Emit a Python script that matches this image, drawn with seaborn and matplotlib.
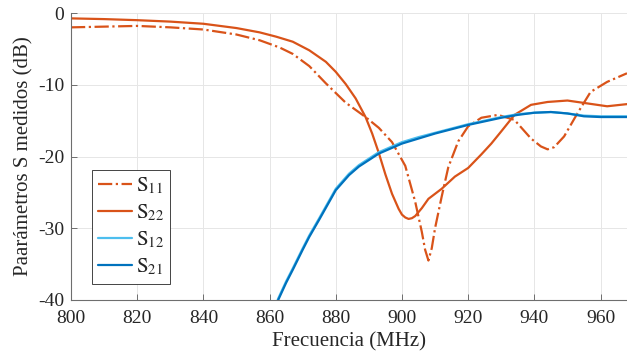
import matplotlib
matplotlib.use("Agg")
import matplotlib.pyplot as plt
import seaborn as sns

# S11 (dash-dot)
f11 = [800, 810, 820, 830, 840, 850, 857, 863, 867, 872, 877, 883, 889, 893, 897,
       901, 904, 906, 907, 908, 909, 910, 912, 914, 917, 920, 924, 929, 934, 939, 942, 944, 946, 949,
       953, 957, 962, 968]
s11 = [-2.0, -1.9, -1.8, -2.0, -2.3, -3.0, -3.8, -4.8, -5.7, -7.4, -9.8, -12.5, -14.5, -16.0, -18.0,
       -21.3, -26.3, -30.5, -33.0, -34.5, -32.8, -30.0, -25.6, -21.5, -17.9, -15.8, -14.6, -14.2, -14.9, -17.5, -18.6, -19.0, -18.7, -17.2,
       -14.0, -11.0, -9.6, -8.4]

# S22
f22 = [800, 810, 820, 830, 840, 850, 857, 862, 867, 872, 877, 880, 883, 886, 889,
       891, 893, 895, 897, 899, 900, 901, 902, 903, 904, 906, 908, 912, 916, 920, 924, 927,
       930, 934, 939, 944, 950, 956, 962, 968]
s22 = [-0.75, -0.85, -1.0, -1.2, -1.5, -2.1, -2.7, -3.3, -4.0, -5.2, -6.8, -8.2, -9.9, -11.9, -14.5,
       -16.8, -19.5, -22.5, -25.2, -27.3, -28.1, -28.5, -28.7, -28.6, -28.3, -27.2, -25.9, -24.5, -22.8, -21.6, -19.7, -18.2,
       -16.5, -14.2, -12.8, -12.4, -12.2, -12.6, -13.0, -12.7]

# S12 / S21
f21 = [860, 862.6, 865, 867, 870, 872, 875, 880, 884, 887, 890, 893, 897, 900, 905,
       910, 915, 920, 925, 930, 935, 940, 945, 950, 955, 960, 968]
s21 = [-43.5, -40.0, -37.6, -35.8, -33.0, -31.2, -28.8, -24.7, -22.6, -21.4, -20.5, -19.6, -18.8, -18.2, -17.5,
       -16.8, -16.2, -15.6, -15.1, -14.6, -14.2, -13.9, -13.8, -14.0, -14.4, -14.5, -14.5]
s12 = [-43.3, -39.8, -37.4, -35.6, -32.8, -31.0, -28.6, -24.5, -22.4, -21.2, -20.3, -19.4, -18.6, -18.0, -17.3,
       -16.7, -16.1, -15.5, -15.0, -14.5, -14.1, -13.9, -13.8, -14.0, -14.3, -14.4, -14.4]

orange = "#D95319"
blue = "#0072BD"
lightblue = "#4DBEEE"

sns.set_style("whitegrid")
plt.rcParams["font.family"] = ["Liberation Serif", "DejaVu Serif"]
plt.rcParams["mathtext.fontset"] = "stix"
plt.rcParams["axes.unicode_minus"] = False

fig = plt.figure(figsize=(6.27, 3.53), dpi=100)
ax = fig.add_axes([71 / 627, 1 - 300 / 353, 556 / 627, 287 / 353])

sns.lineplot(x=f11, y=s11, ax=ax, color=orange, lw=1.6, linestyle="-.", sort=False,
             label=r"$\mathrm{S}_{11}$")
sns.lineplot(x=f22, y=s22, ax=ax, color=orange, lw=1.6, sort=False,
             label=r"$\mathrm{S}_{22}$")
sns.lineplot(x=f21, y=s12, ax=ax, color=lightblue, lw=1.6, sort=False,
             label=r"$\mathrm{S}_{12}$")
sns.lineplot(x=f21, y=s21, ax=ax, color=blue, lw=1.6, sort=False,
             label=r"$\mathrm{S}_{21}$")

ax.set_xlim(800, 968)
ax.set_ylim(-40, 0)
ax.set_xticks(range(800, 961, 20))
ax.set_yticks(range(-40, 1, 10))
ax.grid(True, color="#e6e6e6", lw=0.7)

for side in ["top", "right"]:
    ax.spines[side].set_visible(False)
for side in ["left", "bottom"]:
    ax.spines[side].set_color("#6e6e6e")
    ax.spines[side].set_linewidth(0.8)

ax.tick_params(axis="both", direction="in", length=4, width=0.7, color="#6e6e6e",
               labelsize=14, labelcolor="#262626", bottom=True, left=True)
ax.tick_params(axis="x", pad=7)
ax.tick_params(axis="y", pad=5)
ax.set_xlabel("Frecuencia (MHz)", fontsize=15, color="#262626", labelpad=4)
ax.set_ylabel("Paarámetros S medidos (dB)", fontsize=15, color="#262626", labelpad=3)

leg = ax.legend(loc="lower left", bbox_to_anchor=(0.038, 0.057), fontsize=15,
                frameon=True, fancybox=False, framealpha=1, edgecolor="#262626",
                handlelength=1.6, borderpad=0.3, labelspacing=0.3, handletextpad=0.2,
                borderaxespad=0)
leg.get_frame().set_linewidth(0.6)

fig.savefig("out.png", dpi=100)
